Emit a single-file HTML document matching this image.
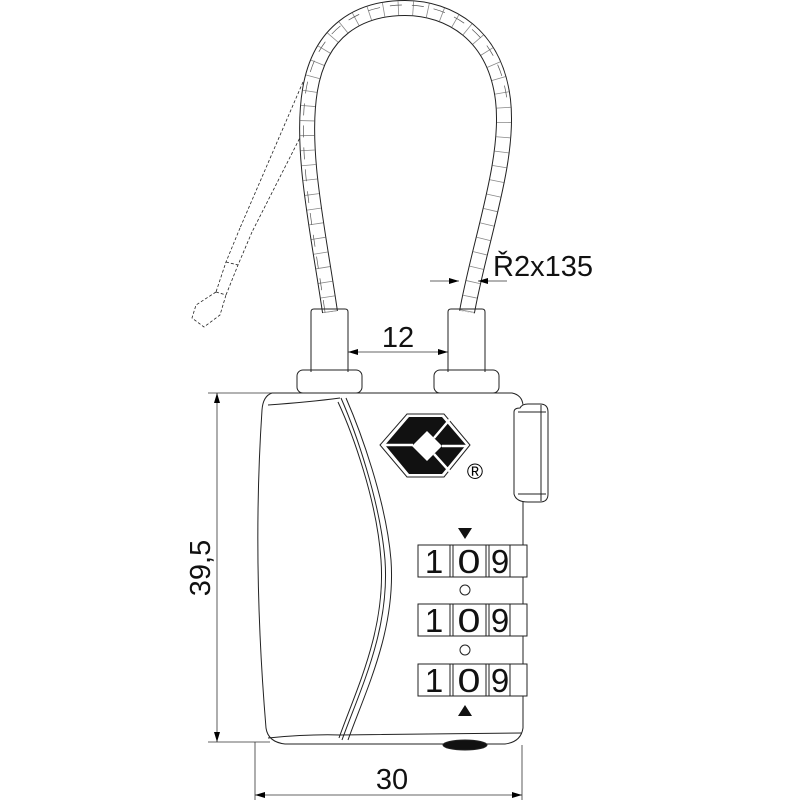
<!DOCTYPE html>
<html><head><style>html,body{margin:0;padding:0;background:#fff}svg{display:block}</style></head>
<body>
<svg width="800" height="800" viewBox="0 0 800 800" xmlns="http://www.w3.org/2000/svg" font-family="Liberation Sans, sans-serif">
<defs>
<marker id="a" viewBox="0 0 10 6" refX="10" refY="3" markerWidth="10" markerHeight="6" orient="auto-start-reverse" markerUnits="userSpaceOnUse"><path d="M0,0L10,3L0,6z" fill="#000"/></marker>
</defs>
<g fill="none" stroke="#222" stroke-width="1">
<path d="M303,82 L240,228 M313,112 L252,232 M240,228 L226,262 L216,292 M252,232 L238,265 L226,295 M216,292 L196,305 L192,318 L204,327 L220,315 L226,295 M226,262 L238,265 M216,292 L226,295" stroke-dasharray="3,2" stroke-width="0.8"/>
<path d="M330,312 C318,230 300,150 310,90 C320,30 360,8 405,8 C450,8 495,35 503,100 C510,160 480,240 467,312" stroke="#222" stroke-width="16"/>
<path d="M330,312 C318,230 300,150 310,90 C320,30 360,8 405,8 C450,8 495,35 503,100 C510,160 480,240 467,312" stroke="#fff" stroke-width="14"/>
<path d="M330,312 C318,230 300,150 310,90 C320,30 360,8 405,8 C450,8 495,35 503,100 C510,160 480,240 467,312" stroke="#555" stroke-width="14" stroke-dasharray="0.8,14" stroke-opacity="0.7"/>
<path d="M325,312 C313,230 297,150 306,90 C316,30 358,5 405,5 C452,5 499,35 507,100" stroke="#555" stroke-width="0.7" stroke-dasharray="12,10"/>
<path d="M311,372 V312 Q311,309 314,309 H345 Q348,309 348,312 V372"/>
<path d="M448,372 V312 Q448,309 451,309 H482 Q485,309 485,312 V372"/>
<rect x="297" y="370" width="65" height="23" rx="6"/>
<rect x="434" y="370" width="65" height="23" rx="6"/>
<path d="M272,393 H512 Q522,395 523,405 V728 Q521,742 505,744 H285 Q268,742 266,728 Q252,560 262,410 Q263,396 272,393 Z" fill="#fff"/>
<path d="M268,405 Q310,402 340,398"/>
<path d="M268,738 Q310,734 340,735 L522,733"/>
<path d="M341,398 C355,430 380,500 385,560 C390,630 360,690 342,740"/>
<path d="M346,398 C360,430 386,500 391,560 C396,630 366,690 348,740"/>
<path d="M338,402 C352,432 377,500 381,560 C386,630 356,690 339,738"/>
<path d="M520,408 Q522,404 528,404 H540 Q548,404 548,412 V494 Q548,502 540,502 H528 Q516,502 514,494 V412 Q514,408 520,408 Z" fill="#fff"/>
<path d="M541,405 V501 M518,412 H546 M518,494 H546"/>
<ellipse cx="465" cy="745" rx="22" ry="5" fill="#111"/>
</g>
<!-- logo -->
<path d="M380,445 L407,414 L444,414 L470,445 L444,477 L407,477 Z" fill="none" stroke="#222"/>
<path d="M385,445 L409,417 L442,417 L466,445 L442,474 L409,474 Z" fill="#111"/>
<path d="M427,431 L442,446 L427,461 L412,446 Z" fill="#fff"/>
<path d="M385,445 L413,445 M434,438 L451,418 M442,446 L466,446 M434,454 L452,474" stroke="#fff" stroke-width="2.5"/>
<text x="475" y="479" font-size="22" text-anchor="middle">®</text>
<g font-size="33" stroke="#222" fill="#fff">
<g id="w">
<rect x="418" y="545" width="109" height="32"/>
<path d="M510,545 V577 M450,545 V577 M453,545 V577 M486,545 V577 M489,545 V577" fill="none"/>
<text x="434" y="573" text-anchor="middle" fill="#111" stroke="none">1</text>
<text x="469" y="573" text-anchor="middle" fill="#111" stroke="none" transform="translate(469,0) scale(1.25,1) translate(-469,0)">0</text>
<text x="500" y="573" text-anchor="middle" fill="#111" stroke="none">9</text>
</g>
<use href="#w" y="59"/>
<use href="#w" y="119"/>
<circle cx="465" cy="590" r="5"/>
<circle cx="465" cy="650" r="5"/>
</g>
<path d="M458,528 H472 L465,539 Z M458,716 H472 L465,705 Z" fill="#111"/>
<g stroke="#333" stroke-width="0.8" fill="none">
<line x1="208" y1="393" x2="272" y2="393"/>
<line x1="208" y1="742" x2="270" y2="742"/>
<line x1="217" y1="393" x2="217" y2="742" marker-start="url(#a)" marker-end="url(#a)"/>
<line x1="255" y1="742" x2="255" y2="800"/>
<line x1="522" y1="745" x2="522" y2="800"/>
<line x1="255" y1="795" x2="522" y2="795" marker-start="url(#a)" marker-end="url(#a)"/>
<line x1="348" y1="352" x2="448" y2="352" marker-start="url(#a)" marker-end="url(#a)"/>
<line x1="430" y1="281" x2="459" y2="281" marker-end="url(#a)"/>
<line x1="507" y1="281" x2="478" y2="281" marker-end="url(#a)"/>
</g>
<g font-size="29" fill="#111">
<text x="398" y="347" text-anchor="middle">12</text>
<text x="392" y="789" text-anchor="middle">30</text>
<text x="493" y="276">Ř2x135</text>
<text transform="translate(210,568) rotate(-90)" text-anchor="middle">39,5</text>
</g>
</svg>
</body></html>
